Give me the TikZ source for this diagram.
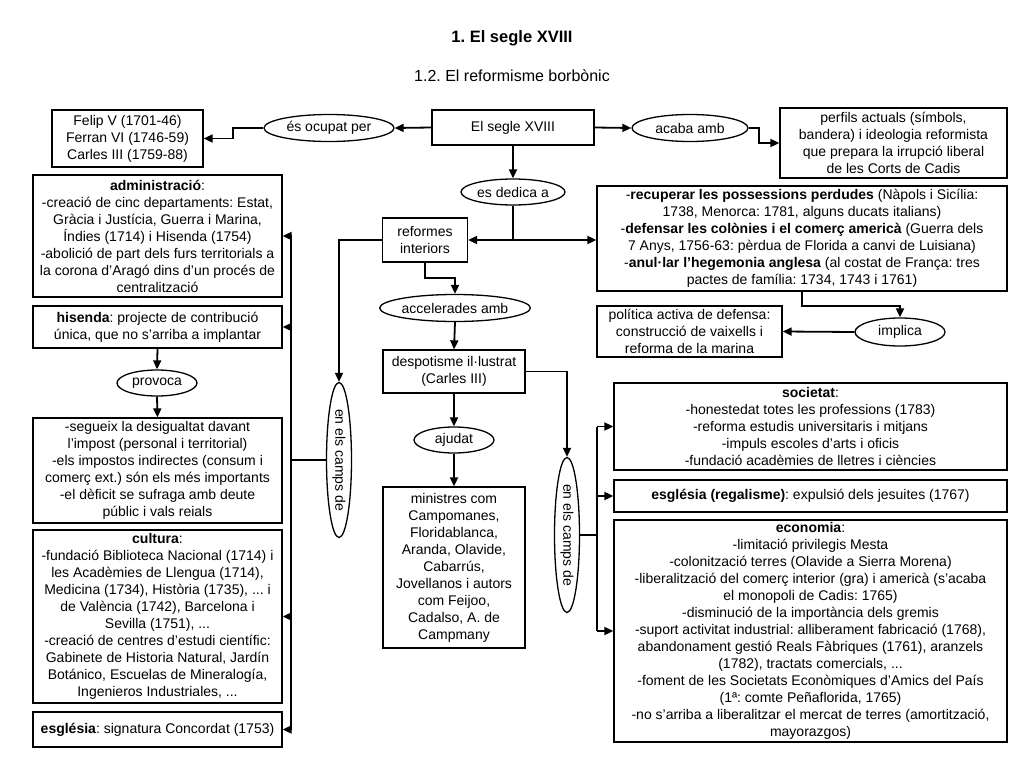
\documentclass[tikz,border=0pt]{standalone}
\usepackage{fontspec}
\setmainfont{Liberation Sans}
\usepackage{graphicx}
\frenchspacing
\usetikzlibrary{arrows.meta,shapes.geometric,calc}

\begin{document}
\begin{tikzpicture}[x=1pt, y=-1pt, >={Triangle[length=9pt,width=8pt]},
    caixa/.style={draw, line width=1.3pt, align=center, inner sep=1pt, font=\fontsize{14}{17}\selectfont},
    enllac/.style={draw, ellipse, line width=1.3pt, inner sep=0pt, font=\fontsize{14}{17}\selectfont},
    fletxa/.style={->, line width=1.8pt}]

    % 画布范围 (1024 x 768)
    \useasboundingbox (0,0) rectangle (1024,768);

    % 1. 标题
    \node[font=\fontsize{16.5}{19}\selectfont\bfseries] (titol) at (512,38) {1. El segle XVIII};
    \node[font=\fontsize{16}{19}\selectfont] (subtitol) at (512,76) {1.2. El reformisme borbònic};

    % 2. 顶行
    \node[caixa, minimum width=151pt, minimum height=57pt] (felip) at (127.5,138.5)
        {Felip V (1701-46)\\Ferran VI (1746-59)\\Carles III (1759-88)};
    \node[enllac, minimum width=130pt, minimum height=27pt] (ocupat) at (329,128) {és ocupat per};
    \node[caixa, minimum width=162pt, minimum height=35pt] (segle) at (513,127.5) {El segle XVIII};
    \node[enllac, minimum width=116pt, minimum height=27pt] (acaba) at (690,128) {acaba amb};
    \node[caixa, minimum width=227pt, minimum height=70pt] (perfils) at (893.5,143)
        {perfils actuals (símbols,\\bandera) i ideologia reformista\\que prepara la irrupció liberal\\de les Corts de Cadis};
    \node[enllac, minimum width=104pt, minimum height=26pt] (dedica) at (513,192) {es dedica a};

    % 3. 外部政策
    \node[caixa, minimum width=410pt, minimum height=105pt] (recuperar) at (802,238.5)
        {-\textbf{recuperar les possessions perdudes} (Nàpols i Sicília:\\1738, Menorca: 1781, alguns ducats italians)\\-\textbf{defensar les colònies i el comerç americà} (Guerra dels\\7 Anys, 1756-63: pèrdua de Florida a canvi de Luisiana)\\-\textbf{anul·lar l’hegemonia anglesa} (al costat de França: tres\\pactes de família: 1734, 1743 i 1761)};
    \node[enllac, minimum width=90pt, minimum height=28pt] (implica) at (900,332) {implica};
    \node[caixa, minimum width=185pt, minimum height=51pt] (politica) at (689.5,331.5)
        {política activa de defensa:\\construcció de vaixells i\\reforma de la marina};

    % 4. 中间一列
    \node[caixa, minimum width=85pt, minimum height=44pt] (reformes) at (425,240) {reformes\\interiors};
    \node[enllac, minimum width=142pt, minimum height=27pt] (accelerades) at (455,308) {accelerades amb};
    \node[caixa, minimum width=142pt, minimum height=43pt] (despotisme) at (454,371.5)
        {despotisme il·lustrat\\(Carles III)};
    \node[enllac, minimum width=80pt, minimum height=26pt] (ajudat) at (454,440) {ajudat};
    \node[caixa, minimum width=142pt, minimum height=161pt] (ministres) at (454,567.5)
        {ministres com\\Campomanes,\\Floridablanca,\\Aranda, Olavide,\\Cabarrús,\\Jovellanos i autors\\com Feijoo,\\Cadalso, A. de\\Campmany};

    % 5. 两个竖直椭圆
    \node[enllac, minimum width=25pt, minimum height=155pt] (camps1) at (339,460) {\rotatebox{-90}{en els camps de}};
    \node[enllac, minimum width=25pt, minimum height=155pt] (camps2) at (567,535) {\rotatebox{-90}{en els camps de}};

    % 6. 右侧一列
    \node[caixa, minimum width=393pt, minimum height=87pt] (societat) at (810.5,426.5)
        {\textbf{societat}:\\-honestedat totes les professions (1783)\\-reforma estudis universitaris i mitjans\\-impuls escoles d’arts i oficis\\-fundació acadèmies de lletres i ciències};
    \node[caixa, minimum width=393pt, minimum height=32pt] (regalisme) at (810.5,496)
        {\textbf{església (regalisme)}: expulsió dels jesuites (1767)};
    \node[caixa, minimum width=393pt, minimum height=222pt] (economia) at (810.5,631)
        {\textbf{economia}:\\-limitació privilegis Mesta\\-colonització terres (Olavide a Sierra Morena)\\-liberalització del comerç interior (gra) i americà (s’acaba\\el monopoli de Cadis: 1765)\\-disminució de la importància dels gremis\\-suport activitat industrial: alliberament fabricació (1768),\\abandonament gestió Reals Fàbriques (1761), aranzels\\(1782), tractats comercials, ...\\-foment de les Societats Econòmiques d’Amics del País\\(1ª: comte Peñaflorida, 1765)\\-no s’arriba a liberalitzar el mercat de terres (amortització,\\mayorazgos)};

    % 7. 左侧一列
    \node[caixa, minimum width=249pt, minimum height=122pt] (admin) at (157.5,236)
        {\textbf{administració}:\\-creació de cinc departaments: Estat,\\Gràcia i Justícia, Guerra i Marina,\\Índies (1714) i Hisenda (1754)\\-abolició de part dels furs territorials a\\la corona d’Aragó dins d’un procés de\\centralització};
    \node[caixa, minimum width=249pt, minimum height=42pt] (hisenda) at (157.5,327)
        {\textbf{hisenda}: projecte de contribució\\única, que no s’arriba a implantar};
    \node[enllac, minimum width=80pt, minimum height=26pt] (provoca) at (157,383) {provoca};
    \node[caixa, minimum width=249pt, minimum height=105pt] (segueix) at (157.5,470.5)
        {-segueix la desigualtat davant\\l’impost (personal i territorial)\\-els impostos indirectes (consum i\\comerç ext.) són els més importants\\-el dèficit se sufraga amb deute\\públic i vals reials};
    \node[caixa, minimum width=249pt, minimum height=173pt] (cultura) at (157.5,616.5)
        {\textbf{cultura}:\\-fundació Biblioteca Nacional (1714) i\\les Acadèmies de Llengua (1714),\\Medicina (1734), Història (1735), ... i\\de València (1742), Barcelona i\\Sevilla (1751), ...\\-creació de centres d’estudi científic:\\Gabinete de Historia Natural, Jardín\\Botánico, Escuelas de Mineralogía,\\Ingenieros Industriales, ...};
    \node[caixa, minimum width=249pt, minimum height=35pt] (esglesia) at (157.5,729.5)
        {\textbf{església}: signatura Concordat (1753)};

    % 8. 连线
    \draw[fletxa] (segle.west) -- (ocupat.east);
    \draw[fletxa] (ocupat.west) -- ++(-30,0) |- (felip.east);
    \draw[fletxa] (segle.east) -- (acaba.west);
    \draw[fletxa] (acaba.east) -- ++(10,0) |- (perfils.west);
    \draw[fletxa] (segle.south) -- (dedica.north);

    \coordinate (repart) at (dedica.south |- reformes.east);
    \draw[line width=1.8pt] (dedica.south) -- (repart);
    \draw[fletxa] (repart) -- (reformes.east);
    \draw[fletxa] (repart) -- (repart -| recuperar.west);
    \draw[fletxa] (recuperar.south) -- ++(0,14) -| (implica.north);
    \draw[fletxa] (implica.west) -- (politica.east);

    \draw[fletxa] (reformes.south) -- ++(0,15) -| (accelerades.north);
    \draw[fletxa] (accelerades.south) -- (despotisme.north);
    \draw[fletxa] (despotisme.south) -- (ajudat.north);
    \draw[fletxa] (ajudat.south) -- (ministres.north);

    % 右侧分支
    \draw[fletxa] (despotisme.east) -| (camps2.north);
    \draw[line width=1.8pt] (camps2.east) -- ++(17,0) coordinate (bus2);
    \draw[line width=1.8pt] (bus2 |- societat.west) -- (bus2 |- economia.west);
    \draw[fletxa] (bus2 |- societat.west) -- (societat.west);
    \draw[fletxa] (bus2 |- regalisme.west) -- (regalisme.west);
    \draw[fletxa] (bus2 |- economia.west) -- (economia.west);

    % 左侧分支
    \draw[fletxa] (reformes.west) -| (camps1.north);
    \draw[line width=1.8pt] (camps1.west) -- ++(-35,0) coordinate (bus1);
    \draw[line width=1.8pt] (bus1 |- admin.east) -- (bus1 |- esglesia.east);
    \draw[fletxa] (bus1 |- admin.east) -- (admin.east);
    \draw[fletxa] (bus1 |- hisenda.east) -- (hisenda.east);
    \draw[fletxa] (bus1 |- cultura.east) -- (cultura.east);
    \draw[fletxa] (bus1 |- esglesia.east) -- (esglesia.east);

    \draw[fletxa] (hisenda.south) -- (provoca.north);
    \draw[fletxa] (provoca.south) -- (segueix.north);

\end{tikzpicture}
\end{document}
